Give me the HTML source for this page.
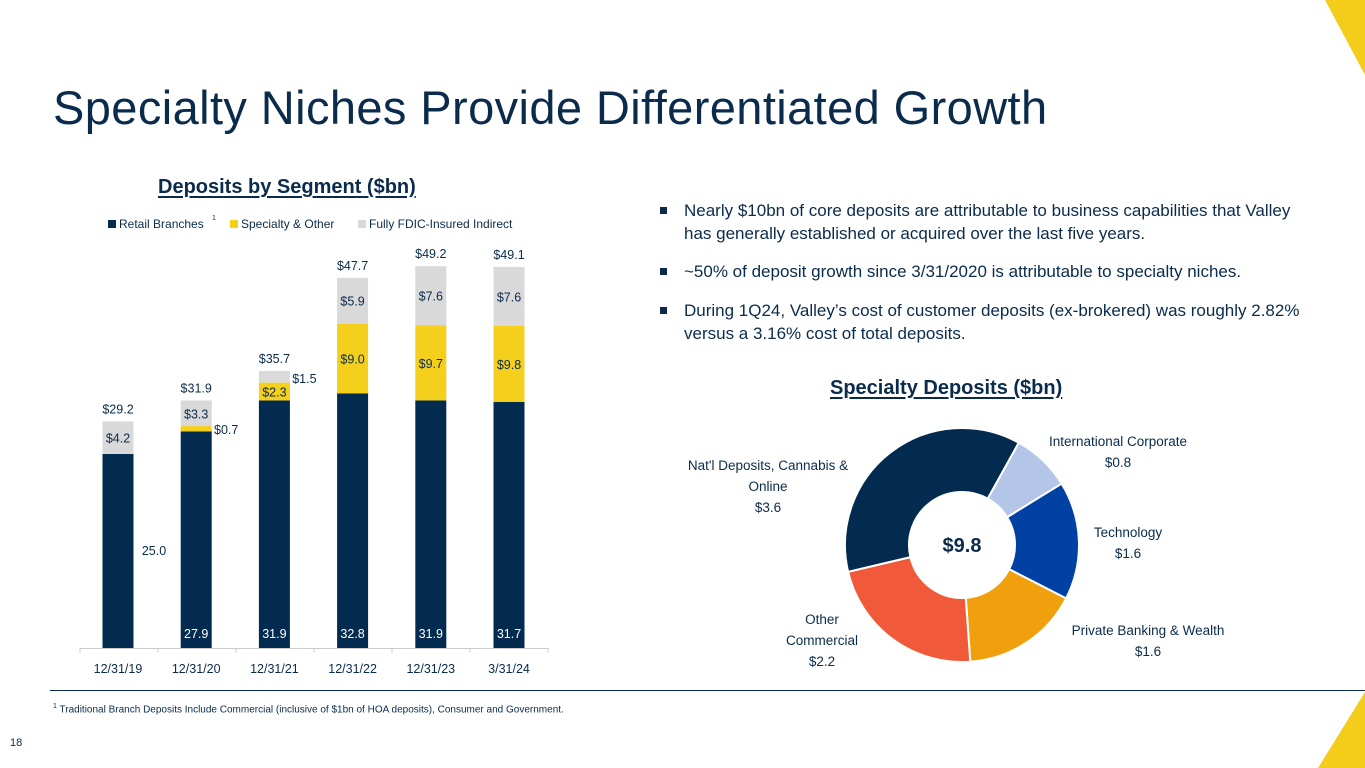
<!DOCTYPE html>
<html><head><meta charset="utf-8">
<style>
body{margin:0;width:1365px;height:768px;position:relative;overflow:hidden;background:#fff;font-family:"Liberation Sans",sans-serif;color:#0a2b4c}
.abs{position:absolute}
h1{position:absolute;left:53px;top:80px;margin:0;font-size:47px;font-weight:normal;color:#0a2b4c;letter-spacing:0.4px}
.sub{font-weight:bold;font-size:20px;text-decoration:underline;text-decoration-thickness:2px;text-underline-offset:3px}
ul{list-style:none;margin:0;padding:0}
li{position:absolute;left:660px;font-size:17px;line-height:23px;width:636px;padding-left:24px}
li:before{content:"";position:absolute;left:0;top:8px;width:7px;height:7px;background:#0a2b4c}
</style></head><body>
<svg class="abs" style="left:0;top:0" width="1365" height="768">
<polygon points="1325,0 1365,0 1365,75" fill="#f4cc1a"/>
<polygon points="1365,692 1365,768 1318,768" fill="#f4cc1a"/>
<line x1="50" y1="690.5" x2="1365" y2="690.5" stroke="#0a2b4c" stroke-width="1"/>
</svg>
<h1>Specialty Niches Provide Differentiated Growth</h1>
<div class="abs sub" style="left:158px;top:176px">Deposits by Segment ($bn)</div>
<div class="abs sub" style="left:830px;top:377px">Specialty Deposits ($bn)</div>
<ul>
<li style="top:199px">Nearly $10bn of core deposits are attributable to business capabilities that Valley has generally established or acquired over the last five years.</li>
<li style="top:260px">~50% of deposit growth since 3/31/2020 is attributable to specialty niches.</li>
<li style="top:299px">During 1Q24, Valley’s cost of customer deposits (ex-brokered) was roughly 2.82% versus a 3.16% cost of total deposits.</li>
</ul>
<div class="abs" style="left:53px;top:703px;font-size:10px"><sup style="font-size:7px">1</sup> Traditional Branch Deposits Include Commercial (inclusive of $1bn of HOA deposits), Consumer and Government.</div>
<div class="abs" style="left:10px;top:737px;font-size:11px">18</div>
<svg id="bar" class="abs" style="left:0;top:200px" width="560" height="480"></svg>
<svg id="donut" class="abs" style="left:660px;top:380px" width="640" height="300"></svg>
<script>
const categories=["12/31/19","12/31/20","12/31/21","12/31/22","12/31/23","3/31/24"];
const retail=[25.0,27.9,31.9,32.8,31.9,31.7];
const specialty=[0,0.7,2.3,9.0,9.7,9.8];
const fdic=[4.2,3.3,1.5,5.9,7.6,7.6];
const totals=["$29.2","$31.9","$35.7","$47.7","$49.2","$49.1"];
const sliceNames=[["International Corporate","$0.8"],["Technology","$1.6"],["Private Banking & Wealth","$1.6"],["Other","Commercial","$2.2"],["Nat'l Deposits, Cannabis &","Online","$3.6"]];
const sliceValues=[0.8,1.6,1.6,2.2,3.6];
const NS="http://www.w3.org/2000/svg";
function mk(p,t,a,txt){const e=document.createElementNS(NS,t);for(const k in a)e.setAttribute(k,a[k]);if(txt!=null)e.textContent=txt;p.appendChild(e);return e;}
const bar=document.getElementById('bar');
const base=448, k=7.76;
const y=v=>base-v*k;
const xc=i=>118+i*78.2;
const F='font-family:"Liberation Sans",sans-serif;font-size:12.5px';
const leg=[["#032b4f","Retail Branches",108],["#f4d01c","Specialty & Other",230],["#d9d9d9","Fully FDIC-Insured Indirect",358]];
leg.forEach(l=>{const r=mk(bar,'rect',{x:l[2],y:20,width:8,height:8,fill:l[0]});

const t=mk(bar,'text',{x:l[2]+11,y:28,style:'font-family:"Liberation Sans",sans-serif;font-size:12px',fill:'#0a2b4c'},l[1]);
});
const sup=mk(bar,'text',{x:212,y:20,style:'font-size:7px;font-family:"Liberation Sans",sans-serif',fill:'#0a2b4c'},'1');

const ax=mk(bar,'line',{x1:80,x2:548,y1:base+0.5,y2:base+0.5,stroke:'#ccc'});

for(let i=0;i<=6;i++){const tk=mk(bar,'line',{x1:80+i*78,x2:80+i*78,y1:base,y2:base+5,stroke:'#ccc'});
}
categories.forEach((c,i)=>{
 const x=xc(i),w=31;
 const r1=mk(bar,'rect',{x:x-w/2,y:y(retail[i]),width:w,height:retail[i]*k,fill:'#032b4f'});
 
 const s0=retail[i],s1=s0+specialty[i],s2=s1+fdic[i];
 const r2=mk(bar,'rect',{x:x-w/2,y:y(s1),width:w,height:specialty[i]*k,fill:'#f4d01c'});
 
 const r3=mk(bar,'rect',{x:x-w/2,y:y(s2),width:w,height:fdic[i]*k,fill:'#d9d9d9'});
 
 const xl=mk(bar,'text',{x:x,y:base+25,'text-anchor':'middle',style:F,fill:'#0a2b4c'},c);
 
 const tl=mk(bar,'text',{x:x,y:y(s2)-8,'text-anchor':'middle',style:F,fill:'#0a2b4c'},totals[i]);
 
 let rl;
 if(i==0) rl=mk(bar,'text',{x:x+36,y:y(retail[i]/2)+4,'text-anchor':'middle',style:F,fill:'#0a2b4c'},retail[i].toFixed(1));
 else rl=mk(bar,'text',{x:x,y:base-10,'text-anchor':'middle',style:F,fill:'#fff'},retail[i].toFixed(1));
 
 if(specialty[i]>0){let sl;
  if(specialty[i]*k<10) sl=mk(bar,'text',{x:x+30,y:y(s1-specialty[i]/2)+5,'text-anchor':'middle',style:F,fill:'#0a2b4c'},'$'+specialty[i].toFixed(1));
  else sl=mk(bar,'text',{x:x,y:y(s1-specialty[i]/2)+5,'text-anchor':'middle',style:F,fill:'#0a2b4c'},'$'+specialty[i].toFixed(1));
  }
 let fl;
 if(fdic[i]*k<15) fl=mk(bar,'text',{x:x+30,y:y(s2)+12,'text-anchor':'middle',style:F,fill:'#0a2b4c'},'$'+fdic[i].toFixed(1));
 else fl=mk(bar,'text',{x:x,y:y(s2-fdic[i]/2)+5,'text-anchor':'middle',style:F,fill:'#0a2b4c'},'$'+fdic[i].toFixed(1));
 
});
const d=document.getElementById('donut');
const cx=302,cy=165,R=117,r=53;
const cols=['#b4c6e7','#0041a3','#f0a00c','#f05a3a','#032b4f'];
const tot=sliceValues.reduce((a,b)=>a+b,0);
let ang=29*Math.PI/180;
const pt=(a,rad)=>[cx+rad*Math.sin(a),cy-rad*Math.cos(a)];
const labelPos=[[458,66],[468,157],[488,255],[162,244],[108,90]];
sliceValues.forEach((v,i)=>{
 const a2=ang+v/tot*2*Math.PI;const lg=(a2-ang)>Math.PI?1:0;
 const p1=pt(ang,R),p2=pt(a2,R),p3=pt(a2,r),p4=pt(ang,r);
 const p=mk(d,'path',{d:`M${p1}L${p1} A${R},${R} 0 ${lg} 1 ${p2} L${p3} A${r},${r} 0 ${lg} 0 ${p4}Z`,fill:cols[i],stroke:'#fff','stroke-width':2});
 
 const t=mk(d,'text',{x:labelPos[i][0],'text-anchor':'middle',style:'font-family:"Liberation Sans",sans-serif;font-size:13.5px',fill:'#0a2b4c'});
 
 sliceNames[i].forEach((s,j)=>{mk(t,'tspan',{x:labelPos[i][0],y:labelPos[i][1]+j*21},s);});
 ang=a2;
});
const c=mk(d,'text',{x:cx,y:cy+7,'text-anchor':'middle',style:'font-family:"Liberation Sans",sans-serif;font-size:20px;font-weight:bold',fill:'#0a2b4c'},'$'+tot.toFixed(1));

</script>
</body></html>
